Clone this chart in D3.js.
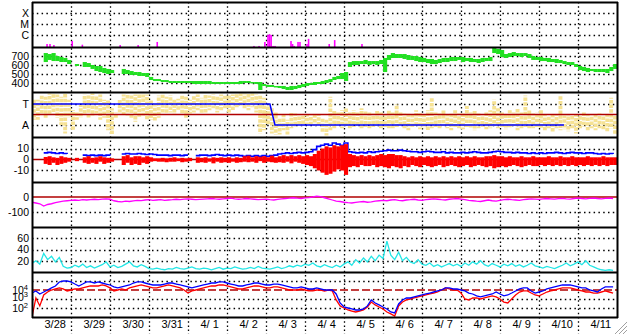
<!DOCTYPE html>
<html lang="en">
<head>
<meta charset="UTF-8">
<script src="https://d3js.org/d3.v7.min.js"></script>
<title>Space weather</title>
<style>
  body { margin: 0; background: #fff; }
  svg text { font-family: "Liberation Sans", Arial, sans-serif; }
</style>
</head>
<body>
<svg width="628" height="334" id="chart"></svg>
<script>
// ---- data (one sample every 0.1 day, starting 3/28 00:00) ----
var dayLabels = ['3/28','3/29','3/30','3/31','4/ 1','4/ 2','4/ 3','4/ 4','4/ 5','4/ 6','4/ 7','4/ 8','4/ 9','4/10','4/11'];

// x-ray flares: day and peak flux (W/m2)
var flareDay  = [0.385,0.46,0.56,1.03,1.29,2.26,2.72,3.21,5.69,5.82,5.97,6.05,6.09,6.13,6.18,6.23,6.64,6.68,6.72,6.82,6.87,7.05,7.09,7.62,7.76,8.46];
var flareFlux = [1.5e-7,1.5e-7,1.2e-7,2.8e-7,1.3e-7,1.2e-7,1.2e-7,2.3e-7,1e-7,1e-7,2.3e-7,1e-6,1.2e-6,1e-6,1e-7,1e-7,2.8e-7,1.5e-7,1e-7,2.3e-7,2.3e-7,1.5e-7,4.4e-7,1.5e-7,3.4e-7,1.5e-7];
var flareTicks = [1e-4, 1e-5, 1e-6];
var flareTickLabels = ['X', 'M', 'C'];

// solar wind speed (km/s), min and max in each sample
var speedHi = [null,null,null,733,722,733,700,689,678,656,null,611,null,633,622,600,589,589,567,556,544,null,null,556,544,533,522,522,511,511,467,444,444,433,433,422,422,422,422,422,422,422,422,422,422,422,411,411,411,411,411,411,411,422,422,422,411,411,411,389,378,378,367,367,367,356,367,367,378,389,400,400,411,411,422,433,444,467,478,511,522,633,644,644,644,656,644,644,644,656,678,711,733,722,722,722,711,700,700,689,678,667,667,656,667,678,678,689,689,689,689,678,678,667,667,678,678,689,789,778,767,722,733,744,733,733,733,722,700,689,689,678,678,667,667,656,644,633,633,611,589,578,567,556,556,556,556,556,578,611];
var speedLo = [null,null,null,633,656,644,644,633,633,611,null,589,null,578,578,556,533,522,511,500,511,null,null,500,500,489,489,478,478,467,433,422,422,411,411,400,400,400,400,400,400,389,389,389,389,389,389,389,389,389,389,389,389,389,400,400,400,389,322,367,356,356,356,344,333,322,322,333,344,356,367,378,378,389,389,400,411,433,444,444,422,578,600,600,611,611,600,611,600,611,522,656,678,678,678,667,656,656,644,633,633,622,611,611,622,633,633,644,644,656,633,644,633,633,622,633,644,644,733,722,689,678,689,700,700,689,700,678,656,656,644,644,633,633,622,622,611,600,600,578,544,533,522,533,522,522,522,511,533,556];
var speedTicks = [700, 600, 500, 400];

// IMF sector: spread of the angle (T = 1, A = -1)
var sectorHi = [1.4,1.4,1.9,1.7,2.0,2.0,1.9,1.7,2.0,1.4,0.4,0.2,0.9,1.9,1.8,2.0,1.8,1.9,1.4,1.4,0.6,0.2,1.4,1.9,2.0,1.8,1.9,2.0,1.9,1.9,1.4,1.0,1.8,1.9,1.7,1.8,1.4,1.5,1.9,1.7,1.4,1.8,1.9,1.6,1.9,1.8,1.9,1.7,1.9,1.9,1.8,1.9,2.0,2.0,2.0,2.0,2.0,1.9,1.8,1.6,0.9,0.6,0.2,-0.3,0,-0.5,0.2,0.1,0,-0.1,0,-0.1,0,0,-0.3,-0.5,1.7,0.4,0.2,0.4,0.6,0.2,0.4,0.2,0.6,0.4,0.2,0.1,0.4,0.2,0,0.4,0.2,1.0,0.2,0.1,0.2,0,0.4,0.2,0,0.4,1.6,0.2,0.1,0.4,0,0.2,0.4,0.1,0.2,0.8,0.2,0.4,0.1,0,0.2,0.4,1.4,0.6,0.2,0.1,0.4,0.2,0.6,0.2,1.8,0.4,0.1,0.2,0.4,0,-0.1,0,0,1.8,-0.1,0,-0.1,0,0,0.2,0,-0.1,0,0.1,-0.1,0,1.6,-0.1];
var sectorLo = [-0.5,-0.5,0,-0.3,0,0.1,-0.3,-1.0,-1.8,-0.3,-1.5,-0.5,-0.3,0,-0.3,-0.1,0.1,-0.5,-0.3,-1.5,-1.9,-0.3,0.2,0,-0.1,-0.3,-0.7,-0.3,-0.1,-0.5,-0.5,-0.7,-0.3,0.2,0,0.2,0,0.4,0.1,-0.3,0.1,0.2,0.4,0,0.2,0.4,0.6,0.2,0.4,0.6,0.2,0.4,0.6,0.8,0.6,0.4,0.7,0.2,-1.8,-1.5,-1.0,-1.8,-1.9,-1.9,-1.5,-1.9,-1.3,-1.2,-1.0,-1.1,-0.9,-1.0,-1.1,-1.0,-1.7,-2.0,-1.5,-1.3,-1.1,-1.3,-1.1,-1.3,-1.2,-1.1,-1.3,-1.2,-1.3,-1.2,-1.1,-1.3,-1.2,-1.3,-1.3,-1.2,-1.1,-1.3,-1.5,-1.3,-1.2,-1.4,-1.3,-1.5,-1.3,-1.2,-1.4,-1.1,-1.3,-1.5,-1.2,-1.3,-1.4,-1.2,-1.3,-1.5,-1.3,-1.2,-1.4,-1.3,-1.1,-1.3,-1.2,-1.4,-1.3,-1.1,-1.5,-1.3,-1.2,-1.4,-1.3,-1.2,-1.3,-1.5,-1.3,-1.7,-1.3,-1.5,-1.4,-1.6,-1.3,-1.8,-1.3,-1.2,-1.5,-1.3,-1.5,-1.3,-1.4,-1.6,-1.3,-1.9];
var sectorDay = [0, 6.1, 6.23, 13.64];
var sectorVal = [1, 1, -1, -1];
var sectorTicks = [1, -1];
var sectorTickLabels = ['T', 'A'];

// IMF Bt and Bz (nT)
var bt = [null,null,null,6,6.5,6,5.5,6,5.5,5,null,4,null,4,3.5,4,3.5,4,3.5,4,3.5,null,null,5,5.5,5,5,5.5,5,4.5,5,4.5,4,4,4,3.5,4,4,3.5,4,4,null,3.5,4,4,3.5,4,4.5,4,3.5,4,3.5,4,3.5,3,3.5,3,3.5,3,3.5,3,3.5,4,5,5.5,6,5.5,6,6.5,6,6.5,7,9,12,13,14,13,15,14,13,15,7,6.5,6,6.5,6,7,6.5,7,7.5,8,8.5,8,8,8.5,8,7.5,7,7,6.5,7,7.5,7,6.5,6.5,7,6,6.5,6,6,6.5,6,6.5,7,6.5,6,6,6.5,7,7.5,7,6.5,6.5,6,6.5,6,6,5.5,6,5.5,6,5.5,6,6,6.5,6,5.5,6,6.5,6,6,5.5,6,6,5.5,5,5.5,5,5.5,5];
var bzHi = [null,null,null,2.3,3,2,1.5,3,2,1.5,null,1.5,null,2,3,1.5,2,3,2,1.5,1,null,null,3,4,2,3,3,2,3,2,1,1,1.5,1,1.5,2,1,1.5,1,1.5,null,2,1.5,2,1,2,1.5,2,1.5,2,1,2,1.5,3,3.5,2,3,2.5,3,2,3.5,2,3,4,3,4,3,4,3,4,3,5,8,10,12,11,13,12,13,14,5,4,3,4,3,4,3,4,5,4,5,5,4,4,3,2,3,2,3,2,3,2,3,2,3,2,3,2,3,2,3,2,3,2,2,3,3,4,3,3,2,3,2,2,3,2,2,3,2,2,2,3,2,2,3,2,2,3,2,2,2,3,2,2,2,3,2,2,2];
var bzLo = [null,null,null,-4,-5,-3,-5,-4,-3,-2,null,-1.5,null,-3,-4,-3,-4,-2,-4,-3,-2,null,null,-5,-3,-5,-4,-5,-3,-4,-2,-1.5,-2,-2,-2.5,-2,-2,-1.5,-2.5,-2,-1.5,null,-3,-2.5,-3,-2,-3.5,-2,-3,-2.5,-3,-2,-3,-2.5,-2,-2.5,-2,-3,-1.5,-3,-2,-2.5,-3,-2.5,-3,-2,-3.5,-2,-3,-4,-5,-6,-8,-10,-12,-14,-13,-11,-9,-10,-14,-7,-6,-7,-5,-6,-6,-5,-7,-6,-7,-8,-6,-7,-8,-6,-7,-5,-6,-7,-5,-6,-7,-6,-5,-7,-6,-5,-6,-7,-6,-5,-7,-6,-5,-6,-7,-6,-8,-7,-6,-7,-6,-5,-6,-7,-6,-5,-6,-6,-5,-6,-5,-6,-5,-6,-5,-6,-5,-6,-5,-6,-5,-6,-5,-6,-5,-6,-5,-5];
var bTicks = [10, 0, -10];

// Dst (nT)
var dst = [-35,-40,-45,-60,-50,-45,-38,-32,-28,-25,-22,-20,-22,-18,-20,-17,-15,-18,-14,-12,-15,-25,-30,-32,-28,-30,-26,-22,-24,-20,-18,-22,-20,-18,-22,-20,-18,-15,-17,-14,-12,-15,-18,-16,-14,-12,-10,-13,-15,-12,-10,-8,-12,-15,-13,-10,-12,-15,-18,-16,-14,-18,-20,-16,-12,-10,-8,-5,-8,-10,-6,-4,0,5,2,-5,-12,-20,-28,-30,-35,-38,-40,-36,-32,-30,-35,-33,-28,-25,-22,-25,-20,-18,-22,-25,-20,-18,-15,-20,-22,-18,-15,-12,-15,-18,-20,-15,-12,-10,-14,-18,-22,-25,-28,-30,-25,-20,-25,-28,-22,-18,-15,-18,-20,-22,-18,-15,-12,-14,-16,-12,-10,-12,-14,-11,-9,-12,-14,-10,-8,-10,-12,-9,-8,-10,-12,-9,-7,-10];
var dstTicks = [0, -100];

// proton density (cm-3)
var dens = [15,20,14,33,22,28,18,26,10,7,8,12,9,14,8,11,7,10,13,18,9,12,8,10,14,18,11,9,13,10,6,5,7,5,4,6,5,8,6,5,7,9,6,5,7,6,4,6,8,5,7,6,9,7,5,6,8,6,10,7,6,5,7,9,6,8,11,9,12,10,14,12,16,11,9,13,10,8,12,9,14,18,12,22,16,25,18,28,20,30,24,55,30,22,35,20,26,18,15,22,14,12,16,10,13,9,12,15,11,14,10,16,12,18,14,20,13,10,15,12,9,14,11,15,10,13,9,12,16,11,9,7,10,8,6,9,12,16,11,14,18,13,20,12,9,6,4,3,4,3];
var densTicks = [60, 40, 20];

// >2 MeV electrons from two satellites (pfu)
var elecBlue = [4.6e3,7.8e3,3.6e3,6e3,1e4,1.7e4,2.8e4,7.8e4,1e5,1e5,7.8e4,4.6e4,2.8e4,4.6e4,7.8e4,7.8e4,6e4,7.8e4,6e4,4.6e4,3.6e4,2.2e4,1.7e4,2.2e4,2.8e4,3.6e4,6e4,7.8e4,7.8e4,6e4,4.6e4,3.6e4,3.6e4,3.6e4,4.6e4,6e4,6e4,4.6e4,3.6e4,2.8e4,2.2e4,1.7e4,2.2e4,2.8e4,3.6e4,4.6e4,6e4,6e4,7.8e4,7.8e4,6e4,4.6e4,3.6e4,2.8e4,2.8e4,3.6e4,4.6e4,6e4,6e4,4.6e4,3.6e4,3.6e4,4.6e4,4.6e4,3.6e4,2.8e4,2.2e4,1.7e4,1.7e4,2.2e4,1.7e4,1.3e4,1.3e4,1.7e4,1.3e4,1e4,1e4,1e4,3.6e3,360,130,100,78,60,60,78,170,780,360,220,130,78,36,28,280,780,1.3e3,1.3e3,1.7e3,2.2e3,2.8e3,3.6e3,4.6e3,6e3,7.8e3,1e4,1.7e4,1.7e4,1.3e4,1.3e4,1e4,7.8e3,4.6e3,3.6e3,2.2e3,1.7e3,2.2e3,2.8e3,3.6e3,6e3,3.6e3,2.2e3,2.8e3,4.6e3,7.8e3,1.3e4,1.7e4,1.7e4,7.8e3,4.6e3,6e3,7.8e3,1.3e4,1.7e4,2.2e4,2.8e4,3.6e4,3.6e4,3.6e4,2.8e4,2.2e4,1.7e4,1.7e4,1e4,7.8e3,6e3,1.3e4,2.2e4,2.2e4,2.2e4];
var elecRed = [10,1.3e3,170,2.8e3,6e3,1e4,1.3e4,1.7e4,1.3e4,7.8e3,1e4,1.3e4,1.3e4,1.7e4,2.2e4,2.8e4,2.8e4,2.8e4,3.6e4,2.8e4,1.7e4,7.8e3,1e4,1.3e4,1e4,1.7e4,2.2e4,2.8e4,3.6e4,2.8e4,2.2e4,1.7e4,1.7e4,2.2e4,2.8e4,3.6e4,2.8e4,2.2e4,1.7e4,1e4,4.6e3,7.8e3,1e4,1.3e4,1.7e4,2.2e4,2.8e4,2.8e4,3.6e4,3.6e4,2.8e4,2.2e4,1.7e4,1.3e4,1.3e4,1.7e4,2.2e4,2.8e4,2.8e4,2.2e4,1.7e4,1.7e4,2.2e4,2.2e4,1.7e4,1.3e4,1e4,1e4,1e4,1.3e4,1e4,7.8e3,7.8e3,1e4,1e4,7.8e3,1e4,7.8e3,780,170,100,60,46,36,46,60,130,460,220,130,78,36,22,13,170,460,780,1e3,1.3e3,1.7e3,2.2e3,2.8e3,3.6e3,4.6e3,6e3,1e4,1.7e4,1.3e4,1e4,1e4,4.6e3,1e3,780,1.3e3,1.3e3,1e3,1.3e3,1.7e3,2.2e3,1.7e3,1e3,460,360,1e3,2.8e3,6e3,7.8e3,7.8e3,4.6e3,2.8e3,2.2e3,3.6e3,6e3,7.8e3,1e4,1.3e4,1.7e4,1.7e4,1.7e4,1.3e4,1e4,7.8e3,6e3,6e3,4.6e3,4.6e3,6e3,7.8e3,6e3,4.6e3];
var elecTicks = [1e4, 1e3, 1e2];
var elecThreshold = 1e4;

// ---- layout ----
var left = 32, right = 617, top0 = 2, ph = 45, bottom = top0 + 7 * ph;
var step = 0.1;
var sampleDay = d3.range(150).map(function(i){ return i * step; });

var svg = d3.select('#chart');
var x = d3.scaleLinear().domain([0, 15]).range([left, right]);
var bw = x(step) - x(0);

function panelRange(k){ return [top0 + (k + 1) * ph, top0 + k * ph]; }

var yFlare  = d3.scaleLog().domain([8e-8, 1e-3]).range(panelRange(0));
var ySpeed  = d3.scaleLinear().domain([300, 800]).range(panelRange(1));
var ySector = d3.scaleLinear().domain([-2.14, 2.14]).range(panelRange(2));
var yB      = d3.scaleLinear().domain([-20.5, 20.5]).range(panelRange(3));
var yDst    = d3.scaleLinear().domain([-200, 100]).range(panelRange(4));
var yDens   = d3.scaleLinear().domain([0, 80]).range(panelRange(5));
var yElec   = d3.scaleLog().domain([10, 1e6]).range(panelRange(6));

var defs = svg.append('defs');
for (var k = 0; k < 7; k++) {
    defs.append('clipPath').attr('id', 'clip' + k)
        .append('rect')
        .attr('x', left).attr('y', top0 + k * ph)
        .attr('width', right - left).attr('height', ph);
}

// grid
function hGrid(scale, values){
    svg.append('g').selectAll('line')
        .data(values).enter().append('line')
        .attr('x1', left).attr('x2', right)
        .attr('y1', function(d){ return Math.round(scale(d)) + 0.5; })
        .attr('y2', function(d){ return Math.round(scale(d)) + 0.5; })
        .attr('stroke', '#000')
        .attr('stroke-width', 1.3)
        .attr('stroke-dasharray', '1.5,3.3');
}
hGrid(yFlare, flareTicks);
hGrid(ySpeed, speedTicks);
hGrid(ySector, sectorTicks);
hGrid(yB, [10, -10]);
hGrid(yDst, [-100]);
hGrid(yDens, densTicks);
hGrid(yElec, [1e5, 1e3, 1e2]);

svg.append('g').selectAll('line')
    .data(d3.range(1, 15)).enter().append('line')
    .attr('x1', function(d){ return Math.round(x(d)) + 0.5; })
    .attr('x2', function(d){ return Math.round(x(d)) + 0.5; })
    .attr('y1', top0).attr('y2', 334)
    .attr('stroke', '#000')
    .attr('stroke-width', 1.3)
    .attr('stroke-dasharray', '1.5,2.7');

// panel 1: flares
svg.append('g').attr('clip-path', 'url(#clip0)')
    .selectAll('rect').data(flareDay).enter().append('rect')
    .attr('x', function(d){ return x(d) - 0.75; })
    .attr('width', 1.6)
    .attr('y', function(d, i){ return yFlare(flareFlux[i]); })
    .attr('height', function(d, i){ return yFlare.range()[0] - yFlare(flareFlux[i]); })
    .attr('fill', '#ff00ff');

// panel 2: wind speed band
svg.append('g').attr('clip-path', 'url(#clip1)')
    .selectAll('rect').data(sampleDay.filter(function(d, i){ return speedHi[i] != null; }))
    .enter().append('rect')
    .attr('x', function(d){ return x(d); })
    .attr('width', bw + 0.3)
    .attr('y', function(d){ return ySpeed(speedHi[Math.round(d / step)]); })
    .attr('height', function(d){ var i = Math.round(d / step); return Math.max(1.5, ySpeed(speedLo[i]) - ySpeed(speedHi[i])); })
    .attr('fill', '#22e022');

// panel 3: sector (speckled bars, dash offset varied so the dots do not line up)
var g3 = svg.append('g').attr('clip-path', 'url(#clip2)');
g3.selectAll('line').data(sampleDay).enter().append('line')
    .attr('x1', function(d){ return x(d) + bw / 2; })
    .attr('x2', function(d){ return x(d) + bw / 2; })
    .attr('y1', function(d, i){ return ySector(sectorHi[i]); })
    .attr('y2', function(d, i){ return ySector(sectorLo[i]); })
    .attr('stroke', '#f6e293')
    .attr('stroke-width', bw)
    .attr('stroke-dasharray', '3.5,1.2')
    .attr('stroke-dashoffset', function(d, i){ return (i * 1.7) % 4.7; });
g3.append('line')
    .attr('x1', left).attr('x2', right)
    .attr('y1', ySector(0)).attr('y2', ySector(0))
    .attr('stroke', '#b00000').attr('stroke-width', 1.5);
g3.append('path')
    .datum(sectorDay)
    .attr('d', d3.line().x(function(d){ return x(d); }).y(function(d, i){ return ySector(sectorVal[i]); }))
    .attr('fill', 'none').attr('stroke', '#0000ff').attr('stroke-width', 1.5);

// panel 4: Bt / Bz
var g4 = svg.append('g').attr('clip-path', 'url(#clip3)');
g4.append('line')
    .attr('x1', left).attr('x2', right)
    .attr('y1', yB(0)).attr('y2', yB(0))
    .attr('stroke', '#b00000').attr('stroke-width', 1.5);
g4.append('path')
    .datum(sampleDay)
    .attr('d', d3.line()
        .defined(function(d, i){ return bt[i] != null; })
        .curve(d3.curveStepAfter)
        .x(function(d){ return x(d); })
        .y(function(d, i){ return yB(bt[i]); }))
    .attr('fill', 'none').attr('stroke', '#0000ff').attr('stroke-width', 1.6);
g4.selectAll('rect').data(sampleDay.filter(function(d, i){ return bzHi[i] != null; }))
    .enter().append('rect')
    .attr('x', function(d){ return x(d); })
    .attr('width', bw + 0.2)
    .attr('y', function(d){ return yB(bzHi[Math.round(d / step)]); })
    .attr('height', function(d){ var i = Math.round(d / step); return yB(bzLo[i]) - yB(bzHi[i]); })
    .attr('fill', '#ff0000');

// panel 5: Dst
var g5 = svg.append('g').attr('clip-path', 'url(#clip4)');
g5.append('line')
    .attr('x1', left).attr('x2', right)
    .attr('y1', yDst(0)).attr('y2', yDst(0))
    .attr('stroke', '#b00000').attr('stroke-width', 1.5);
g5.append('path')
    .datum(sampleDay)
    .attr('d', d3.line().x(function(d){ return x(d); }).y(function(d, i){ return yDst(dst[i]); }))
    .attr('fill', 'none').attr('stroke', '#ff00ff').attr('stroke-width', 1.3);

// panel 6: density
svg.append('g').attr('clip-path', 'url(#clip5)')
    .append('path')
    .datum(sampleDay)
    .attr('d', d3.line().x(function(d){ return x(d); }).y(function(d, i){ return yDens(dens[i]); }))
    .attr('fill', 'none').attr('stroke', '#22e6e6').attr('stroke-width', 1.3);

// panel 7: electrons
var g7 = svg.append('g').attr('clip-path', 'url(#clip6)');
g7.append('line')
    .attr('x1', left).attr('x2', right)
    .attr('y1', yElec(elecThreshold)).attr('y2', yElec(elecThreshold))
    .attr('stroke', '#b00000').attr('stroke-width', 1.5)
    .attr('stroke-dasharray', '8,3');
g7.append('path')
    .datum(sampleDay)
    .attr('d', d3.line().x(function(d){ return x(d); }).y(function(d, i){ return yElec(elecRed[i]); }))
    .attr('fill', 'none').attr('stroke', '#ff0000').attr('stroke-width', 1.3);
g7.append('path')
    .datum(sampleDay)
    .attr('d', d3.line().x(function(d){ return x(d); }).y(function(d, i){ return yElec(elecBlue[i]); }))
    .attr('fill', 'none').attr('stroke', '#0000ff').attr('stroke-width', 1.3);

// axes
function leftAxis(scale, values, labels){
    var axis = d3.axisLeft(scale).tickValues(values).tickSize(0).tickPadding(3)
        .tickFormat(function(d, i){ return labels ? labels[i] : d; });
    var g = svg.append('g').attr('transform', 'translate(' + left + ',0)').call(axis);
    g.select('.domain').remove();
    g.attr('font-size', 10.5).attr('font-family', '"Liberation Sans", Arial, sans-serif');
    g.selectAll('text').attr('fill', '#000');
}
leftAxis(yFlare, flareTicks, flareTickLabels);
leftAxis(ySpeed, speedTicks);
leftAxis(ySector, sectorTicks, sectorTickLabels);
leftAxis(yB, bTicks);
leftAxis(yDst, dstTicks);
leftAxis(yDens, densTicks);

// electron labels sit a little squeezed, as in the original plot
var eNudge = [0, -2, 0];
var eLab = svg.append('g').selectAll('text').data(elecTicks).enter().append('text')
    .attr('x', left - 4)
    .attr('y', function(d, i){ return yElec(d) + eNudge[i]; })
    .attr('dy', '0.35em')
    .attr('text-anchor', 'end')
    .attr('font-size', 10.5);
eLab.append('tspan').text('10');
eLab.append('tspan').attr('dy', -4).attr('font-size', 7.5)
    .text(function(d){ return Math.round(Math.log10(d)); });

var xAxis = d3.axisBottom(x).tickValues(d3.range(15)).tickSize(0).tickPadding(0)
    .tickFormat(function(d){ return dayLabels[d]; });
var gx = svg.append('g').attr('transform', 'translate(0,' + (bottom + 3) + ')').call(xAxis);
gx.select('.domain').remove();
gx.attr('font-size', 11).attr('font-family', '"Liberation Sans", Arial, sans-serif');
gx.selectAll('text').attr('text-anchor', 'start').attr('dx', 12).attr('fill', '#000');

// frame
svg.append('g').selectAll('line')
    .data(d3.range(8)).enter().append('line')
    .attr('x1', left).attr('x2', right + 1)
    .attr('y1', function(d){ return top0 + d * ph + 0.5; })
    .attr('y2', function(d){ return top0 + d * ph + 0.5; })
    .attr('stroke', '#000').attr('stroke-width', 2);
[left, right].forEach(function(px){
    svg.append('line')
        .attr('x1', px + 0.5).attr('x2', px + 0.5)
        .attr('y1', top0).attr('y2', bottom + 1)
        .attr('stroke', '#000').attr('stroke-width', 2);
});

// window resize grip
[0, 4, 8].forEach(function(o){
    svg.append('line')
        .attr('x1', 627).attr('y1', 322 + o)
        .attr('x2', 615 + o).attr('y2', 334)
        .attr('stroke', '#a0a0a0').attr('stroke-width', 1);
});
</script>
</body>
</html>
